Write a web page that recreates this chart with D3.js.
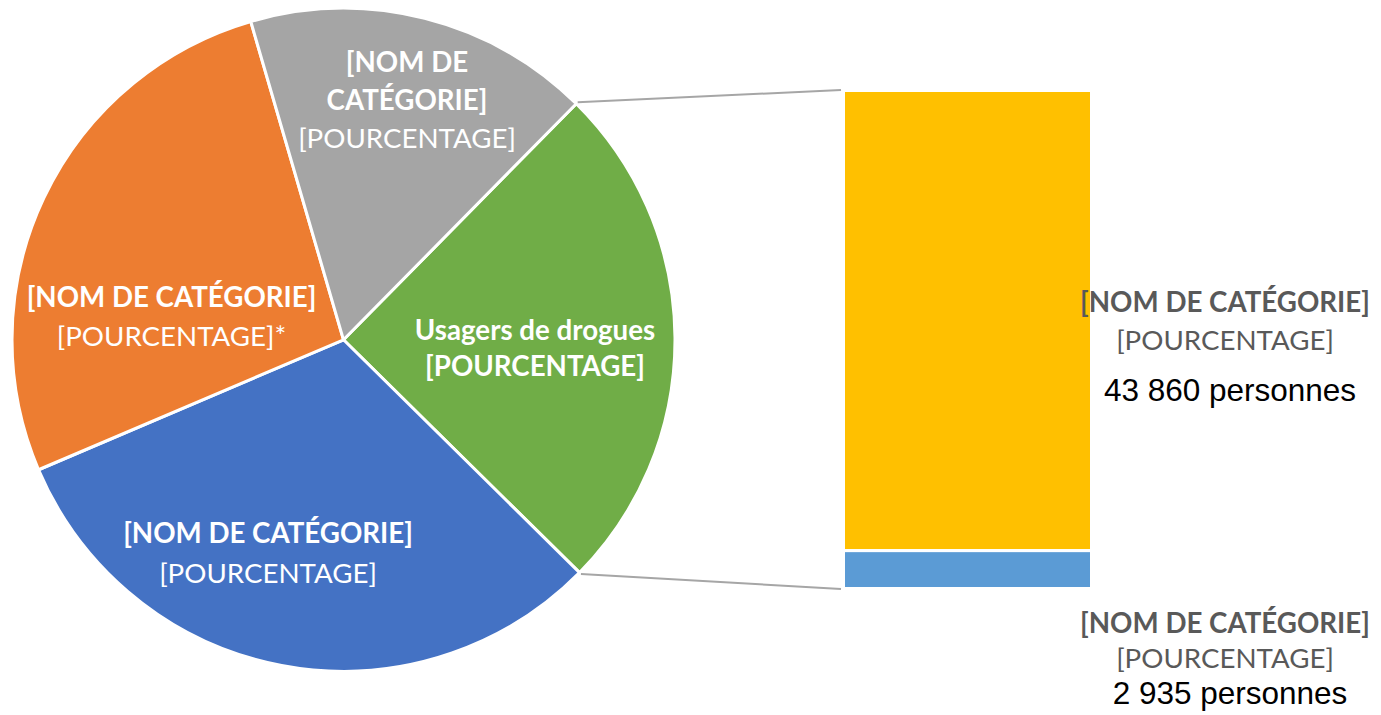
<!DOCTYPE html>
<html>
<head>
<meta charset="utf-8">
<script src="https://cdn.jsdelivr.net/npm/d3@7"></script>
<style>
  html, body { margin: 0; padding: 0; background: #ffffff; }
  svg { display: block; }
</style>
</head>
<body>
<svg id="chart" width="1381" height="715"></svg>
<script>
// ---- data ----
const pieCategories = ["Usagers de drogues", "[NOM DE CATÉGORIE]", "[NOM DE CATÉGORIE]", "[NOM DE CATÉGORIE]"];
const pieValues = [25.0, 31.2, 26.9, 16.9];          // % of the pie
const pieColors = ["#70AD47", "#4472C4", "#ED7D31", "#A5A5A5"];
const pieLabelLines = [
  [["Usagers de drogues", "bold"], ["[POURCENTAGE]", "bold"]],
  [["[NOM DE CATÉGORIE]", "bold"], ["[POURCENTAGE]", "normal"]],
  [["[NOM DE CATÉGORIE]", "bold"], ["[POURCENTAGE]*", "normal"]],
  [["[NOM DE", "bold"], ["CATÉGORIE]", "bold"], ["[POURCENTAGE]", "normal"]]
];
const barCategories = ["[NOM DE CATÉGORIE]", "[NOM DE CATÉGORIE]"];
const barValues = [92.4, 7.6];                        // share of the green slice
const barPersons = ["43 860 personnes", "2 935 personnes"];
const barColors = ["#FFC000", "#5B9BD5"];

// ---- layout ----
const W = 1381, H = 715;
const cx = 343.5, cy = 339.8, R = 331.5;
const startDeg = 44.6;
const barX0 = 843.5, barX1 = 1091.5, barY0 = 90.5, barY1 = 588.5;

const svg = d3.select("#chart");
const FONT = "Lato, 'Open Sans', 'Noto Sans', sans-serif";

// fit font size so that the bold category label is as wide as in the reference (Calibri 24pt)
const probe = svg.append("text").attr("font-family", FONT).attr("font-weight", "bold")
  .attr("font-size", 32).text("[NOM DE CATÉGORIE]");
const probeW = probe.node().getComputedTextLength();
probe.remove();
const FS = 32 * 290 / probeW;

// ---- pie ----
const pie = d3.pie().sort(null).value(d => d)
  .startAngle(startDeg * Math.PI / 180)
  .endAngle(startDeg * Math.PI / 180 + 2 * Math.PI);
const arcs = pie(pieValues);
const arc = d3.arc().innerRadius(0).outerRadius(R);

const gPie = svg.append("g").attr("transform", `translate(${cx},${cy})`);
gPie.selectAll("path").data(arcs).enter().append("path")
  .attr("d", arc)
  .attr("fill", (d, i) => pieColors[i])
  .attr("stroke", "#ffffff")
  .attr("stroke-width", 3)
  .attr("stroke-linejoin", "round");

// label anchors (offset from pie center, in px, layout only)
const pieLabelPos = [
  { x: 191.5, y: 0.2, gap: 36.5 },
  { x: -75.5, y: 203.2, gap: 40 },
  { x: -172, y: -32.8, gap: 39 },
  { x: 63.5, y: -267.8, gap: 38 }
];
arcs.forEach((a, i) => {
  const p = pieLabelPos[i];
  const t = gPie.append("text")
    .attr("text-anchor", "middle")
    .attr("font-family", FONT)
    .attr("font-size", FS)
    .attr("fill", "#ffffff");
  pieLabelLines[i].forEach((ln, j) => {
    t.append("tspan").attr("x", p.x).attr("y", p.y + j * p.gap)
      .attr("font-weight", ln[1] === "bold" ? 700 : 400)
      .text(ln[0]);
  });
});

// ---- bar of pie ----
const total = d3.sum(barValues);
const y = d3.scaleLinear().domain([0, total]).range([barY0, barY1]);
let acc = 0;
const stack = barValues.map(v => { const s = { y0: acc, y1: acc + v }; acc += v; return s; });

svg.append("g").selectAll("rect").data(stack).enter().append("rect")
  .attr("x", barX0)
  .attr("width", barX1 - barX0)
  .attr("y", d => y(d.y0))
  .attr("height", d => y(d.y1) - y(d.y0))
  .attr("fill", (d, i) => barColors[i])
  .attr("stroke", "#ffffff")
  .attr("stroke-width", 3);

// connector lines from green slice edges to the bar
const green = arcs[0];
const edgePt = ang => [cx + (R + 2) * Math.sin(ang), cy - (R + 2) * Math.cos(ang)];
const p0 = edgePt(green.startAngle), p1 = edgePt(green.endAngle);
const lineGen = d3.line();
svg.append("path").attr("d", lineGen([p0, [barX0 - 2.5, y(0) - 0.5]]))
  .attr("stroke", "#A6A6A6").attr("stroke-width", 2).attr("fill", "none");
svg.append("path").attr("d", lineGen([p1, [barX0 - 2.5, y(total) + 0.5]]))
  .attr("stroke", "#A6A6A6").attr("stroke-width", 2).attr("fill", "none");

// bar labels
const barLabelPos = [
  { x: 1225, y: 312, gap: 38, py: 401, px: 1230 },
  { x: 1225, y: 633, gap: 35, py: 704, px: 1230 }
];
barCategories.forEach((c, i) => {
  const p = barLabelPos[i];
  svg.append("text").attr("x", p.x).attr("y", p.y)
    .attr("text-anchor", "middle").attr("font-family", FONT).attr("font-size", FS)
    .attr("font-weight", 700).attr("fill", "#595959").text(c);
  svg.append("text").attr("x", p.x).attr("y", p.y + p.gap)
    .attr("text-anchor", "middle").attr("font-family", FONT).attr("font-size", FS)
    .attr("font-weight", 400).attr("fill", "#595959").text("[POURCENTAGE]");
  svg.append("text").attr("x", p.px).attr("y", p.py)
    .attr("text-anchor", "middle").attr("font-family", "'Liberation Sans', Arial, sans-serif")
    .attr("font-size", 31.5).attr("fill", "#000000").text(barPersons[i]);
});
</script>
</body>
</html>
